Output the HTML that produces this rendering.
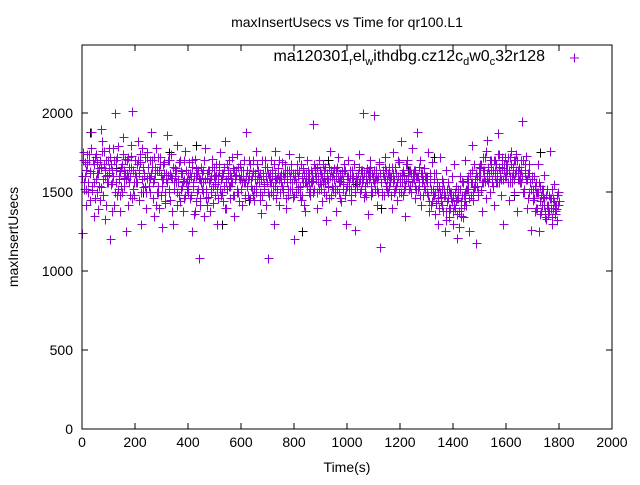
<!DOCTYPE html>
<html><head><meta charset="utf-8"><style>
body{margin:0;background:#fff;font-family:"Liberation Sans",sans-serif}
svg text{font-family:"Liberation Sans",sans-serif;font-size:14px;fill:#000}
</style></head><body>
<svg id="chart" width="640" height="480" xmlns="http://www.w3.org/2000/svg">
<rect width="640" height="480" fill="#fff"/>
<text x="347" y="27" text-anchor="middle">maxInsertUsecs vs Time for qr100.L1</text>
<text transform="translate(18,237) rotate(-90)" text-anchor="middle">maxInsertUsecs</text>
<text x="347" y="472" text-anchor="middle">Time(s)</text>
<g id="axes"></g>
<g id="marks" shape-rendering="crispEdges"></g>
<rect x="82" y="45" width="530" height="384" fill="none" stroke="#000" stroke-width="1"/>
<g>
<text x="545" y="61" text-anchor="end" style="font-size:16px">ma120301<tspan font-size="11" dy="4">r</tspan><tspan dy="-4">el</tspan><tspan font-size="11" dy="4">w</tspan><tspan dy="-4">ithdbg.cz12c</tspan><tspan font-size="11" dy="4">d</tspan><tspan dy="-4">w0</tspan><tspan font-size="11" dy="4">c</tspan><tspan dy="-4">32r128</tspan></text>
<path d="M570,58h9M574.5,53.5v9" stroke="#9400d3" stroke-width="1"/>
</g>
</svg>
<script>
const xTicks=[0,200,400,600,800,1000,1200,1400,1600,1800,2000];
const yTicks=[0,500,1000,1500,2000];
const timeStep=5;
const values=[
1240,1750,1600,1520,1680,1700,1450,1880,1620,1560,
1720,1500,1390,1650,1900,1820,1580,1330,1700,1610,
1780,1200,1550,1640,1420,2000,1700,1520,1600,1380,
1680,1850,1590,1250,1620,1720,1480,1660,2010,1560,
1700,1600,1820,1450,1690,1780,1530,1620,1400,1750,
1660,1590,1880,1700,1350,1620,1780,1500,1640,1720,
1280,1580,1690,1430,1860,1610,1520,1740,1590,1300,
1650,1560,1800,1480,1700,1630,1380,1580,1760,1520,
1500,1690,1600,1250,1560,1710,1440,1620,1080,1580,
1660,1500,1350,1780,1590,1470,1640,1520,1710,1430,
1550,1680,1300,1600,1750,1480,1620,1540,1820,1400,
1590,1700,1460,1560,1650,1350,1610,1740,1500,1580,
1640,1420,1700,1560,1880,1480,1600,1680,1520,1630,
1450,1760,1580,1620,1500,1370,1700,1550,1660,1600,
1080,1480,1620,1700,1540,1300,1760,1590,1650,1420,
1560,1690,1500,1620,1400,1580,1740,1520,1640,1470,
1200,1600,1680,1530,1720,1450,1590,1650,1380,1560,
1700,1620,1480,1570,1930,1520,1650,1400,1600,1700,
1550,1440,1680,1590,1320,1620,1530,1760,1480,1600,
1650,1500,1380,1720,1570,1460,1630,1550,1680,1300,
1540,1700,1600,1450,1590,1680,1260,1560,1620,1740,
1500,1600,2000,1470,1580,1650,1360,1700,1540,1620,
1990,1520,1600,1420,1690,1150,1560,1640,1480,1720,
1580,1500,1660,1600,1400,1750,1520,1620,1450,1690,
1560,1820,1480,1610,1350,1700,1570,1640,1500,1780,
1620,1460,1600,1880,1540,1700,1420,1580,1650,1520,
1600,1750,1380,1560,1690,1480,1620,1430,1560,1300,
1720,1470,1580,1520,1250,1640,1560,1400,1500,1600,
1380,1680,1450,1210,1520,1600,1350,1570,1480,1700,
1420,1560,1250,1620,1800,1450,1530,1180,1600,1480,
1650,1510,1380,1720,1570,1460,1830,1600,1500,1680,
1540,1420,1700,1620,1870,1560,1480,1650,1300,1720,
1600,1680,1450,1560,1760,1620,1500,1700,1380,1640,
1580,1700,1950,1500,1620,1730,1400,1680,1560,1260,
1450,1600,1380,1500,1680,1250,1540,1420,1470,1610,
1330,1520,1400,1760,1460,1300,1550,1420,1390,1500
];
const values2=[
1600,1520,1690,1420,1560,1740,1630,1510,1700,1350,
1580,1690,1620,1450,1530,1760,1680,1600,1420,1560,
1650,1720,1380,1600,1700,1560,1480,1790,1630,1540,
1500,1640,1710,1580,1420,1660,1600,1730,1520,1480,
1620,1560,1700,1640,1300,1580,1660,1720,1500,1590,
1540,1700,1620,1460,1580,1660,1500,1720,1400,1610,
1580,1680,1500,1620,1560,1700,1450,1600,1660,1520,
1600,1420,1560,1690,1520,1620,1570,1460,1640,1580,
1540,1620,1480,1700,1600,1380,1650,1520,1590,1460,
1620,1560,1700,1520,1420,1640,1580,1500,1660,1600,
1480,1610,1560,1680,1520,1600,1440,1660,1580,1520,
1640,1540,1600,1720,1480,1580,1640,1500,1600,1680,
1520,1600,1560,1460,1640,1580,1700,1540,1600,1480,
1620,1540,1680,1600,1450,1580,1620,1520,1700,1560,
1500,1600,1560,1640,1480,1620,1580,1520,1700,1600,
1620,1520,1600,1680,1560,1480,1640,1580,1520,1620,
1580,1500,1640,1600,1540,1680,1480,1620,1560,1600,
1640,1560,1520,1620,1580,1680,1600,1500,1560,1640,
1520,1600,1640,1560,1480,1580,1660,1600,1540,1620,
1580,1640,1520,1600,1560,1440,1620,1580,1640,1520,
1600,1560,1640,1520,1600,1680,1500,1580,1620,1560,
1520,1640,1580,1500,1620,1560,1640,1600,1480,1580,
1640,1580,1520,1600,1680,1560,1500,1620,1580,1640,
1520,1600,1560,1480,1620,1580,1660,1540,1600,1500,
1600,1560,1640,1520,1580,1680,1600,1540,1620,1560,
1580,1640,1520,1600,1560,1480,1620,1580,1540,1600,
1560,1480,1620,1520,1440,1580,1500,1620,1460,1540,
1500,1420,1560,1480,1380,1520,1460,1340,1500,1440,
1480,1400,1540,1460,1380,1520,1440,1560,1420,1500,
1520,1600,1460,1560,1640,1500,1580,1620,1540,1660,
1600,1680,1560,1640,1720,1580,1660,1620,1700,1560,
1640,1600,1680,1560,1740,1620,1580,1700,1640,1600,
1680,1560,1640,1720,1600,1660,1580,1640,1700,1620,
1560,1640,1600,1520,1680,1580,1620,1500,1560,1600,
1520,1460,1560,1400,1500,1440,1380,1520,1460,1340,
1480,1420,1380,1460,1520,1400,1440,1360,1480,1420
];
const values3=[
1700,1560,1640,1740,1500,1620,1780,1540,1680,1460,
1740,1620,1540,1700,1660,1480,1760,1640,1560,1700,
1620,1680,1560,1780,1500,1640,1720,1580,1480,1660,
1740,1540,1620,1700,1600,1560,1800,1460,1640,1700,
1560,1680,1620,1740,1500,1660,1600,1540,1720,1660,
1600,1500,1660,1560,1720,1420,1640,1540,1680,1480,
1540,1620,1440,1580,1700,1500,1620,1380,1660,1560,
1640,1500,1580,1440,1620,1540,1700,1480,1560,1620,
1580,1460,1660,1540,1360,1600,1500,1640,1420,1560,
1520,1640,1580,1460,1620,1560,1380,1600,1540,1660,
1600,1520,1460,1640,1580,1500,1620,1400,1560,1680,
1540,1620,1560,1480,1640,1600,1520,1660,1440,1600,
1560,1640,1480,1600,1540,1620,1460,1580,1700,1520,
1580,1500,1640,1560,1620,1480,1600,1540,1420,1660,
1620,1560,1500,1600,1680,1540,1460,1620,1580,1500,
1540,1620,1580,1460,1640,1520,1600,1680,1560,1480,
1620,1560,1520,1640,1480,1600,1560,1420,1620,1540,
1580,1500,1640,1560,1500,1620,1580,1660,1520,1560,
1620,1560,1500,1660,1580,1540,1460,1640,1600,1520,
1540,1600,1660,1500,1620,1580,1520,1640,1480,1600,
1600,1520,1480,1640,1560,1500,1600,1540,1660,1580,
1640,1560,1620,1540,1480,1620,1580,1660,1500,1600,
1560,1640,1580,1500,1620,1560,1480,1600,1660,1540,
1620,1540,1600,1660,1560,1500,1620,1560,1700,1580,
1500,1620,1580,1540,1680,1600,1520,1640,1560,1600,
1640,1540,1600,1520,1660,1620,1560,1480,1600,1580,
1500,1440,1580,1420,1520,1480,1360,1540,1500,1400,
1440,1520,1380,1480,1320,1440,1520,1400,1460,1300,
1420,1500,1360,1460,1280,1400,1480,1340,1440,1520,
1580,1520,1620,1480,1560,1680,1540,1620,1500,1600,
1680,1560,1640,1600,1760,1620,1560,1700,1640,1580,
1700,1640,1560,1740,1660,1600,1720,1580,1680,1620,
1640,1720,1600,1680,1560,1700,1620,1740,1580,1660,
1620,1560,1700,1500,1640,1580,1460,1620,1520,1580,
1460,1540,1400,1500,1560,1360,1480,1520,1420,1380,
1420,1360,1480,1400,1340,1460,1380,1420,1320,1440
];
const blackValues=[1880,1650,1500,1750,1800,1300,1450,1600,1250,1700,1550,1400,1640,1720,1350,1600,1480,1750];
const xMin=0,xMax=2000,yMin=0,yMax=2430;
const L=82,R=612,T=45,B=429;
function sx(v){return L+(v-xMin)/(xMax-xMin)*(R-L);}
function sy(v){return B-(v-yMin)/(yMax-yMin)*(B-T);}
const NS="http://www.w3.org/2000/svg";
const axes=document.getElementById('axes');
const marks=document.getElementById('marks');
xTicks.forEach(t=>{
  const x=sx(t);
  const p=document.createElementNS(NS,'path');
  p.setAttribute('d',`M${x},${B}v-6M${x},${T}v6`);
  p.setAttribute('stroke','#000');
  
  
  axes.appendChild(p);
  const tx=document.createElementNS(NS,'text');
  tx.setAttribute('x',x);tx.setAttribute('y',B+18);tx.setAttribute('text-anchor','middle');
  tx.textContent=t;
  
  
  axes.appendChild(tx);
});
yTicks.forEach(t=>{
  const y=sy(t);
  const p=document.createElementNS(NS,'path');
  p.setAttribute('d',`M${L},${y}h6M${R},${y}h-6`);
  p.setAttribute('stroke','#000');
  
  
  axes.appendChild(p);
  const tx=document.createElementNS(NS,'text');
  tx.setAttribute('x',L-9);tx.setAttribute('y',y+5);tx.setAttribute('text-anchor','end');
  tx.textContent=t;
  
  
  axes.appendChild(tx);
});
function plus(x,y,c,name){
  const p=document.createElementNS(NS,'path');
  x=Math.round(x)+0.5;y=Math.round(y)+0.5;
  p.setAttribute('d',`M${x-4},${y}h9M${x},${y-4}v9`);
  p.setAttribute('stroke',c);
  
  
  marks.appendChild(p);
}
const blackStep=100;
blackValues.forEach((v,i)=>plus(sx(i*blackStep+30),sy(v),'#000','black-point'));
values2.forEach((v,i)=>plus(sx(i*timeStep+1.7),sy(v),'#9400d3','point'));
values3.forEach((v,i)=>plus(sx(i*timeStep+3.4),sy(v),'#9400d3','point'));
values.forEach((v,i)=>plus(sx(i*timeStep),sy(v),'#9400d3','point'));
</script>
</body></html>
